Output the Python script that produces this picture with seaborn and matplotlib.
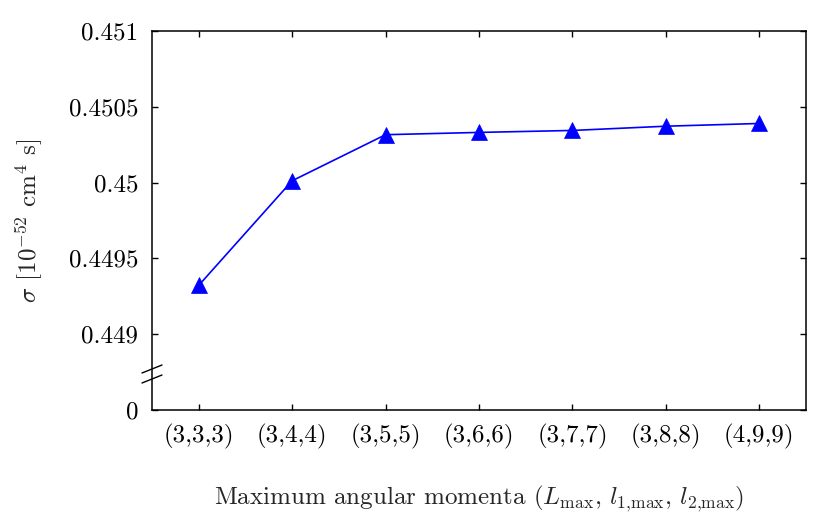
import matplotlib
matplotlib.use("Agg")
import matplotlib.pyplot as plt
import seaborn as sns
import pandas as pd

categories = ["(3,3,3)", "(3,4,4)", "(3,5,5)", "(3,6,6)", "(3,7,7)", "(3,8,8)", "(4,9,9)"]
sigma = [0.449322, 0.450012, 0.450316, 0.450331, 0.450344, 0.450372, 0.450390]
ytick_values = [0.4485, 0.449, 0.4495, 0.45, 0.4505, 0.451]
ytick_labels = ["0", "0.449", "0.4495", "0.45", "0.4505", "0.451"]

sns.set_style("ticks")
plt.rcParams.update({
    "font.family": "serif",
    "font.serif": ["cmr10", "DejaVu Serif"],
    "mathtext.fontset": "cm",
    "axes.unicode_minus": False,
    "axes.formatter.use_mathtext": True,
    "font.size": 18,
})

df = pd.DataFrame({"config": categories, "sigma": sigma})

fig = plt.figure(figsize=(8.23, 5.14), dpi=100)
ax = fig.add_axes([152 / 823, 1 - 410 / 514, 654 / 823, 379 / 514])

sns.lineplot(data=df, x="config", y="sigma", sort=False, ax=ax,
             color="#0000ff", linewidth=1.2, marker="^", markersize=12,
             markeredgecolor="#0000ff", markeredgewidth=0.5)

ax.set_xlim(-0.5, len(categories) - 0.5)
ax.set_ylim(ytick_values[0], ytick_values[-1])
ax.set_yticks(ytick_values)
ax.set_yticklabels(ytick_labels)
ax.set_xticks(range(len(categories)))
ax.set_xticklabels(categories)

ax.tick_params(direction="in", top=True, right=True, length=4, width=1.0,
               labelsize=18, colors="black")
ax.tick_params(axis="y", pad=10)
ax.tick_params(axis="x", pad=10)
for s in ax.spines.values():
    s.set_linewidth(1.1)
    s.set_color("black")

ax.set_xlabel(r"Maximum angular momenta ($L_{\mathrm{max}}$, $l_{1{,}\mathrm{max}}$, $l_{2{,}\mathrm{max}}$)",
              fontsize=18, labelpad=25)
ax.set_ylabel(r"$\sigma$ [10$^{-52}$ cm$^4$ s]", fontsize=18, labelpad=17)

# axis break marks on the left spine
h = 379.0
for yc in (369.0, 379.0):
    y0 = (410 - (yc + 4)) / h
    y1 = (410 - (yc - 4)) / h
    ax.plot([-10 / 654, 10 / 654], [y0, y1], transform=ax.transAxes,
            color="black", linewidth=1.0, clip_on=False)

fig.savefig("out.png", dpi=100)
